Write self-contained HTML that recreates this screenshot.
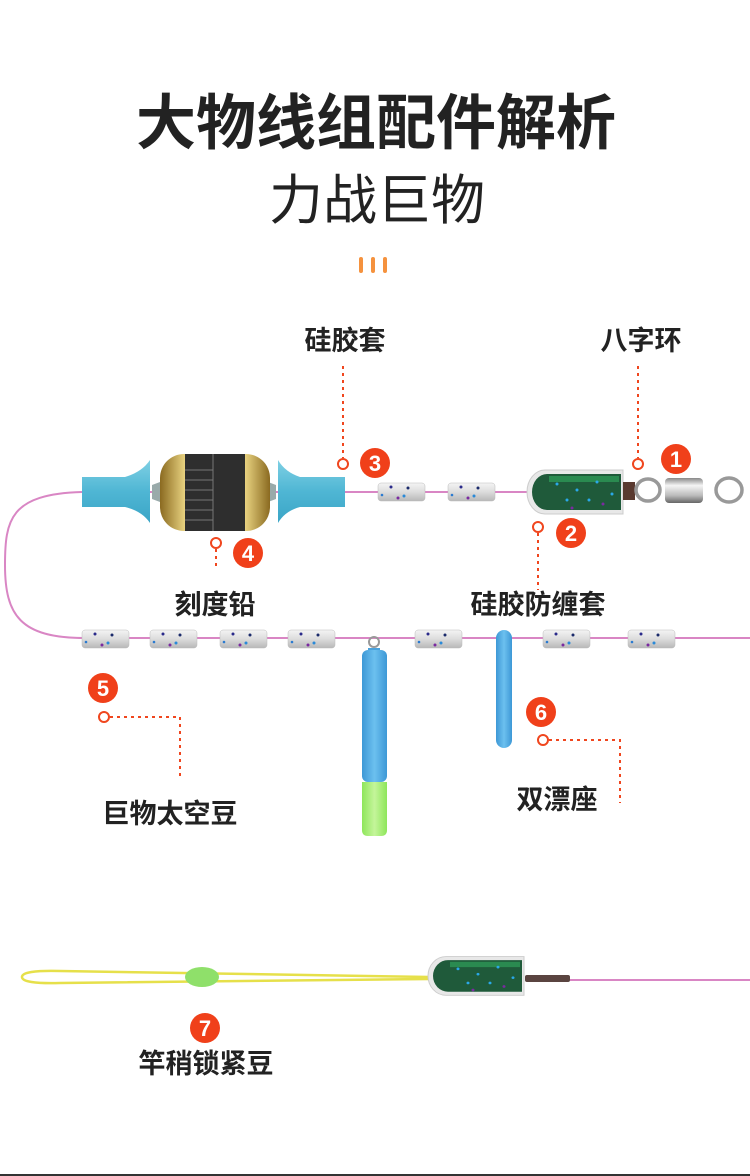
<!DOCTYPE html>
<html><head><meta charset="utf-8"><style>
html,body{margin:0;padding:0;background:#fff;}
svg{display:block;}
text{font-family:"Liberation Sans","Noto Sans CJK SC",sans-serif;}
</style></head><body>
<svg width="750" height="1176" viewBox="0 0 750 1176" xmlns="http://www.w3.org/2000/svg">
<defs>
<linearGradient id="cone" x1="0" y1="0" x2="0" y2="1"><stop offset="0" stop-color="#7fd0e4"/><stop offset="0.5" stop-color="#4fb6d4"/><stop offset="1" stop-color="#3aa5c6"/></linearGradient>
<linearGradient id="gold" x1="0" y1="0" x2="1" y2="0"><stop offset="0" stop-color="#8a6a20"/><stop offset="0.25" stop-color="#f2dd8a"/><stop offset="0.5" stop-color="#c9a440"/><stop offset="0.75" stop-color="#f2dd8a"/><stop offset="1" stop-color="#8a6a20"/></linearGradient>
<linearGradient id="bead" x1="0" y1="0" x2="0" y2="1"><stop offset="0" stop-color="#f4f4f4"/><stop offset="0.5" stop-color="#dcdcdc"/><stop offset="1" stop-color="#b8b8b8"/></linearGradient>
<linearGradient id="metal" x1="0" y1="0" x2="0" y2="1"><stop offset="0" stop-color="#888"/><stop offset="0.3" stop-color="#f5f5f5"/><stop offset="0.7" stop-color="#bbb"/><stop offset="1" stop-color="#666"/></linearGradient>
<linearGradient id="blue" x1="0" y1="0" x2="1" y2="0"><stop offset="0" stop-color="#3d98d6"/><stop offset="0.5" stop-color="#6cc0ef"/><stop offset="1" stop-color="#3d98d6"/></linearGradient>
<linearGradient id="green" x1="0" y1="0" x2="1" y2="0"><stop offset="0" stop-color="#8ee65a"/><stop offset="0.5" stop-color="#c4f59a"/><stop offset="1" stop-color="#8ee65a"/></linearGradient>
<g id="bd">
<rect x="0" y="0" width="47" height="18" rx="3" fill="url(#bead)" stroke="#bbb" stroke-width="0.5"/>
<circle cx="13" cy="4" r="1.5" fill="#2a2a8a"/><circle cx="30" cy="5" r="1.5" fill="#1a2a6a"/>
<circle cx="4" cy="12" r="1.3" fill="#2a7ad0"/><circle cx="26" cy="13" r="1.5" fill="#2a8ad8"/><circle cx="20" cy="15" r="1.5" fill="#7a2aa0"/>
</g>
<g id="cap">
<path d="M18 0 H96 V44 H18 A18 22 0 0 1 18 0 Z" fill="#e8e8e8" stroke="#ccc"/>
<path d="M20 4 H94 V40 H20 A15 18 0 0 1 20 4 Z" fill="#1f5a3a"/>
<rect x="22" y="6" width="70" height="6" fill="#2a8a50"/>
<circle cx="30" cy="14" r="1.5" fill="#2aa8e8"/><circle cx="50" cy="20" r="1.5" fill="#2aa8e8"/><circle cx="70" cy="12" r="1.5" fill="#2aa8e8"/><circle cx="85" cy="24" r="1.5" fill="#2aa8e8"/><circle cx="40" cy="30" r="1.5" fill="#2aa8e8"/><circle cx="62" cy="30" r="1.5" fill="#2aa8e8"/><circle cx="45" cy="38" r="1.5" fill="#7a2aa0"/><circle cx="76" cy="34" r="1.5" fill="#7a2aa0"/>
</g>
</defs>

<text x="376" y="144" text-anchor="middle" font-size="60" font-weight="bold" fill="#222">大物线组配件解析</text>
<text x="377" y="219" text-anchor="middle" font-size="54" fill="#222">力战巨物</text>
<g fill="#f5923e"><rect x="359" y="257" width="4" height="16" rx="2"/><rect x="371" y="257" width="4" height="16" rx="2"/><rect x="383" y="257" width="4" height="16" rx="2"/></g>

<g font-size="27" font-weight="bold" fill="#222" text-anchor="middle">
<text x="345" y="350">硅胶套</text>
<text x="641" y="350">八字环</text>
<text x="215" y="614">刻度铅</text>
<text x="538" y="614">硅胶防缠套</text>
<text x="170" y="823">巨物太空豆</text>
<text x="557" y="809">双漂座</text>
<text x="206" y="1073">竿稍锁紧豆</text>
</g>

<g stroke="#d986c4" stroke-width="2" fill="none">
<path d="M82 492 C10 494 5 520 5 565 C5 615 20 638 85 638 H750"/>
<path d="M82 492 H530"/>
<path d="M570 980 H750"/>
</g>

<g stroke="#f0461e" stroke-width="2" stroke-dasharray="3 4" fill="none">
<path d="M343 366 V458"/><path d="M638 366 V458"/><path d="M538 533 V590"/><path d="M216 549 V566"/>
<path d="M110 717 H180 V780"/><path d="M549 740 H620 V803"/>
</g>
<g stroke="#f0461e" stroke-width="2" fill="#fff">
<circle cx="343" cy="464" r="5"/><circle cx="638" cy="464" r="5"/><circle cx="538" cy="527" r="5"/><circle cx="216" cy="543" r="5"/><circle cx="104" cy="717" r="5"/><circle cx="543" cy="740" r="5"/>
</g>
<g fill="#f0401a"><circle cx="676" cy="459" r="15"/><circle cx="375" cy="463" r="15"/><circle cx="571" cy="533" r="15"/><circle cx="248" cy="553" r="15"/><circle cx="103" cy="688" r="15"/><circle cx="541" cy="712" r="15"/><circle cx="205" cy="1028" r="15"/></g>
<g fill="#fff" font-size="22" font-weight="bold" text-anchor="middle">
<text x="676" y="467">1</text><text x="375" y="471">3</text><text x="571" y="541">2</text><text x="248" y="561">4</text><text x="103" y="696">5</text><text x="541" y="720">6</text><text x="205" y="1036">7</text>
</g>

<path d="M82 477 H125 Q142 472 150 460 V523 Q142 511 125 507 H82 Z" fill="url(#cone)"/>
<path d="M345 477 H300 Q285 472 278 460 V523 Q285 511 300 507 H345 Z" fill="url(#cone)"/>
<path d="M152 485 L160 482 V502 L152 499 Z" fill="#9aa"/><path d="M276 485 L268 482 V502 L276 499 Z" fill="#9aa"/>
<rect x="160" y="454" width="110" height="77" rx="24" fill="url(#gold)"/>
<rect x="185" y="454" width="60" height="77" fill="#2e2e2e"/>
<g stroke="#777" stroke-width="1"><line x1="213" y1="454" x2="213" y2="531"/><line x1="185" y1="470" x2="213" y2="470"/><line x1="185" y1="480" x2="213" y2="480"/><line x1="185" y1="490" x2="213" y2="490"/><line x1="185" y1="500" x2="213" y2="500"/><line x1="185" y1="510" x2="213" y2="510"/><line x1="185" y1="520" x2="213" y2="520"/></g>

<use href="#bd" x="378" y="483"/><use href="#bd" x="448" y="483"/>
<use href="#cap" x="527" y="470"/>
<rect x="623" y="482" width="12" height="18" fill="#5a3a30"/>
<g fill="none" stroke="#999" stroke-width="3.5">
<ellipse cx="648" cy="490" rx="12" ry="11"/><ellipse cx="729" cy="490" rx="13" ry="12"/>
</g>
<rect x="665" y="478" width="38" height="25" rx="4" fill="url(#metal)"/>

<use href="#bd" x="82" y="630"/><use href="#bd" x="150" y="630"/><use href="#bd" x="220" y="630"/><use href="#bd" x="288" y="630"/><use href="#bd" x="415" y="630"/><use href="#bd" x="543" y="630"/><use href="#bd" x="628" y="630"/>
<circle cx="374" cy="642" r="5" fill="none" stroke="#999" stroke-width="2"/>
<path d="M368 648 H380 V670 H368 Z" fill="#4aa2dc"/>
<rect x="362" y="650" width="25" height="132" rx="6" fill="url(#blue)"/>
<path d="M362 782 H387 V830 Q387 836 381 836 H368 Q362 836 362 830 Z" fill="url(#green)"/>
<rect x="496" y="630" width="16" height="118" rx="8" fill="url(#blue)"/>

<path d="M430 977 L60 971 Q22 970 22 977 Q22 984 60 983 L430 979" fill="none" stroke="#e6e04a" stroke-width="2.5"/>
<ellipse cx="202" cy="977" rx="17" ry="10" fill="#8fe06a"/>
<use href="#cap" x="428" y="957" transform="scale(1 0.88) translate(0 130)"/>
<rect x="525" y="975" width="45" height="7" rx="2" fill="#5a4440"/>

<rect x="0" y="1174" width="750" height="2" fill="#333"/>
</svg>
</body></html>
